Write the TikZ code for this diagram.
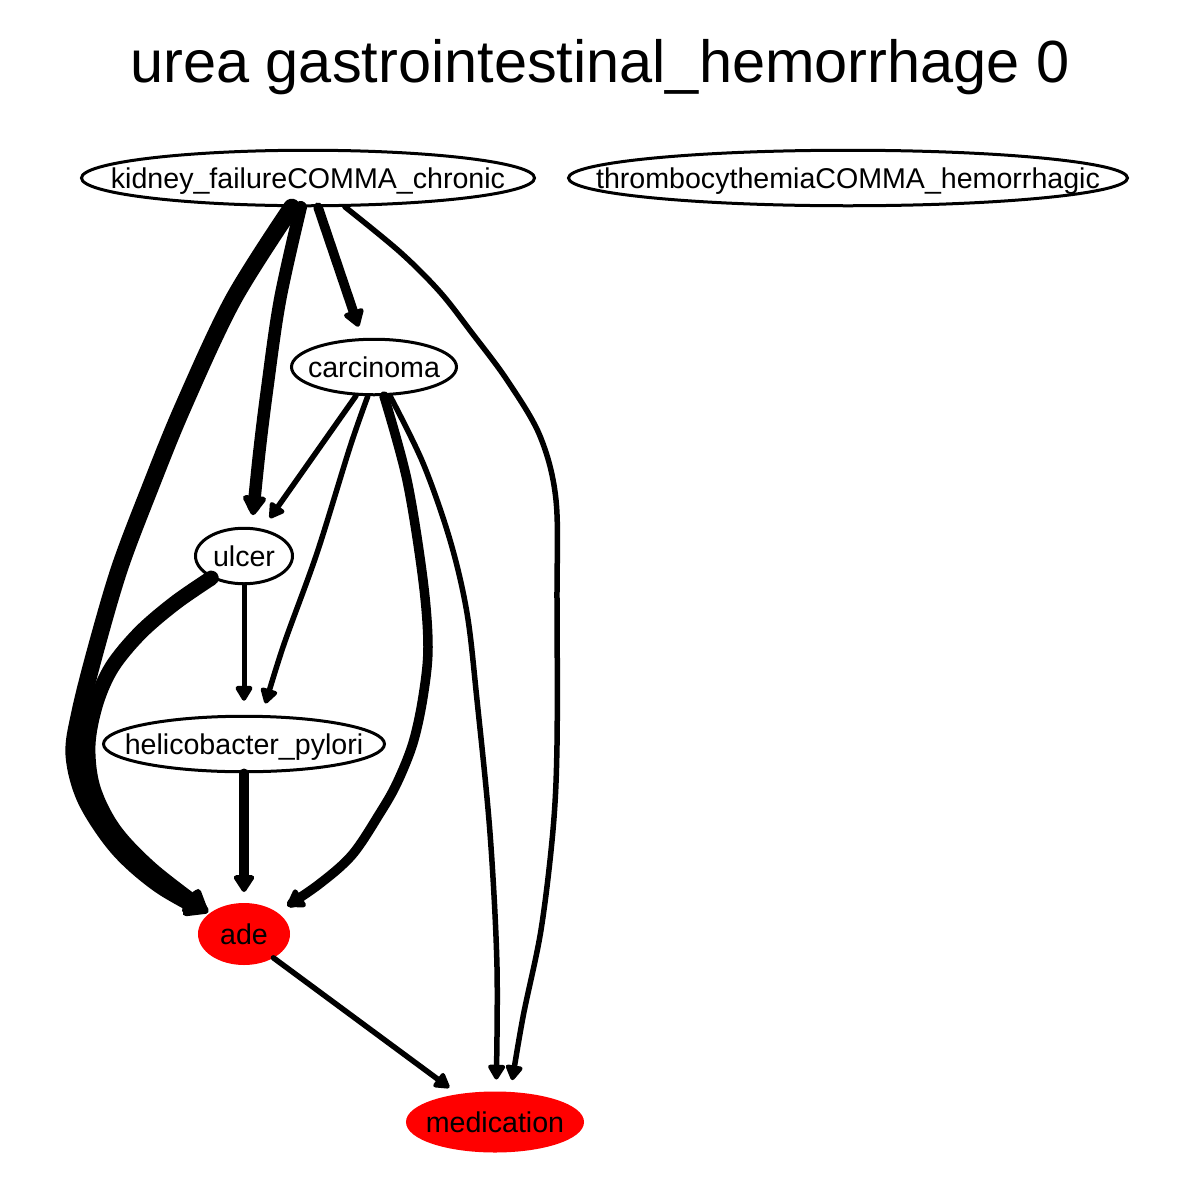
\documentclass[tikz,border=0pt]{standalone}
\usepackage{fontspec}
\setmainfont{Liberation Sans}
\usetikzlibrary{shapes.geometric,arrows.meta}
\begin{document}
\begin{tikzpicture}[x=1pt,y=-1pt,
  nd/.style={ellipse, draw=black, line width=3pt, inner sep=0pt,
    minimum height=55.5pt, text height=20.4pt, text depth=0pt,
    font=\fontsize{28.6}{30}\selectfont},
  hot/.style={nd, draw=red, fill=red},
  ed/.style={draw=black, line cap=round, line join=round},
  thin/.style={ed, line width=5.5pt, -{Triangle[length=17pt,width=19pt,round]}},
  mid/.style={ed, line width=9.5pt, -{Triangle[length=19pt,width=23pt,round]}},
  heavy/.style={ed, line width=12.5pt, -{Triangle[length=22pt,width=26pt,round]}},
  huge/.style={ed, -{Triangle[length=26pt,width=32pt,round]}}]
\useasboundingbox (0,0) rectangle (1200,1200);
\fill[white] (0,0) rectangle (1200,1200);

\node[font=\fontsize{59.5}{60}\selectfont, anchor=base] (title) at (600,82)
  {urea gastrointestinal\_hemorrhage 0};

\node[nd, minimum width=453pt] (kidney) at (308,178) {\makebox[0pt]{kidney\_failureCOMMA\_chronic}};
\node[nd, minimum width=559pt] (thromb) at (848,178) {\makebox[0pt]{thrombocythemiaCOMMA\_hemorrhagic}};
\node[nd, minimum width=165pt] (carcinoma) at (374,367) {\makebox[0pt]{carcinoma}};
\node[nd, minimum width=97pt] (ulcer) at (244,556) {\makebox[0pt]{ulcer}};
\node[nd, minimum width=281pt] (helico) at (244,744) {\makebox[0pt]{helicobacter\_pylori}};
\node[hot, minimum width=89pt, minimum height=59pt] (ade) at (244,934) {\makebox[0pt]{ade}};
\node[hot, minimum width=175pt, minimum height=58pt] (medication) at (495,1122) {\makebox[0pt]{medication}};

% kidney -> ade
\draw[huge, line width=17pt, shorten >=2pt] plot[smooth, tension=0.55] coordinates
  {(kidney.241) (233,300) (183,407) (150,488) (120,567) (97,645) (80,712) (74,755) (86,800) (118,848) (160,885) (ade.148)};
% ulcer -> ade
\draw[huge, line width=15pt, shorten >=2pt] plot[smooth, tension=0.55] coordinates
  {(ulcer.214) (175,603) (140,633) (112,667) (96,703) (88,745) (93,788) (114,830) (152,870) (ade.150)};
% kidney -> ulcer
\draw[heavy, shorten >=12pt] plot[smooth, tension=0.55] coordinates
  {(kidney.256) (280,300) (267,390) (259,455) (ulcer.75)};
% kidney -> carcinoma
\draw[mid, shorten >=12pt] (kidney.289) -- (carcinoma.112);
% kidney -> medication
\draw[thin, shorten >=12pt] plot[smooth, tension=0.55] coordinates
  {(kidney.322) (400,252) (440,292) (472,333) (507,380) (540,436) (556,500) (557,600) (557,745) (553,830) (541,930) (523,1017) (medication.63)};
% carcinoma -> ulcer
\draw[thin, shorten >=13pt] (carcinoma.238) -- (ulcer.56);
% carcinoma -> helicobacter
\draw[thin, shorten >=12pt] plot[smooth, tension=0.55] coordinates
  {(carcinoma.258) (350,447) (317,553) (283,647) (helico.58)};
% carcinoma -> ade
\draw[mid, shorten >=12pt] plot[smooth, tension=0.55] coordinates
  {(carcinoma.289) (407,480) (423,580) (428,647) (423,697) (413,743) (397,783) (380,813) (352,855) (318,885) (ade.33)};
% carcinoma -> medication
\draw[thin, shorten >=12pt] plot[smooth, tension=0.55] coordinates
  {(carcinoma.299) (423,463) (450,540) (467,613) (477,700) (490,833) (497,967) (medication.88)};
% ulcer -> helicobacter
\draw[thin, line width=5pt, shorten >=14pt] (ulcer.south) -- (helico.north);
% helicobacter -> ade
\draw[mid, shorten >=11pt] (helico.south) -- (ade.north);
% ade -> medication
\draw[thin, shorten >=11pt] (ade.321) -- (medication.143);
\end{tikzpicture}
\end{document}
